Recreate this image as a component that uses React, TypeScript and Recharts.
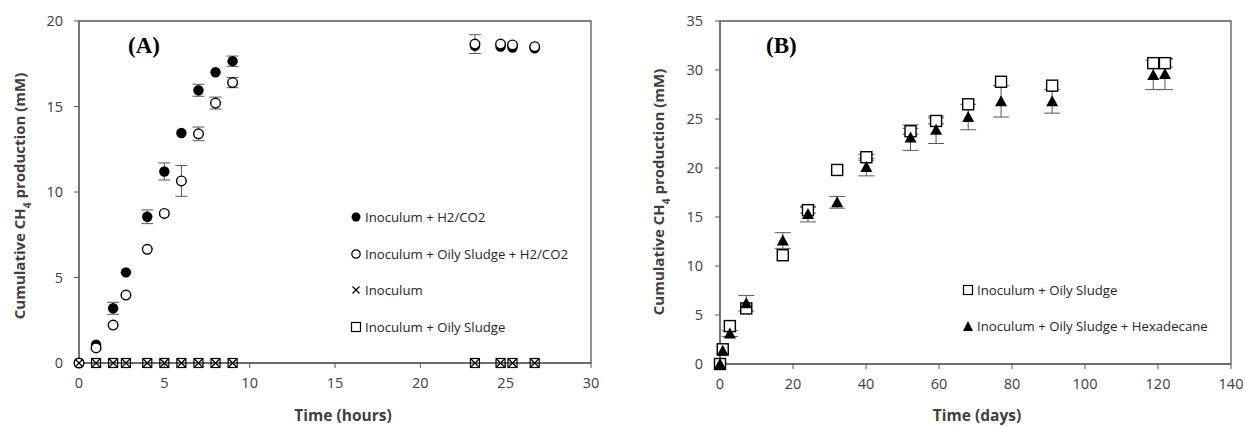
import React from "react";
import { ScatterChart, Scatter, XAxis, YAxis, ErrorBar, ReferenceArea, Label } from "recharts";

// (A) time in hours
const hoursA = [0, 1, 2, 2.75, 4, 5, 6, 7, 8, 9, 23.2, 24.7, 25.4, 26.7];
const h2co2 = [0, 1.07, 3.2, 5.3, 8.55, 11.2, 13.45, 15.95, 17.0, 17.65, 18.55, 18.5, 18.45, 18.4];
const h2co2Err = [0, 0, 0.35, 0, 0.4, 0.5, 0, 0.35, 0, 0.3, 0, 0, 0, 0];
const oilyH2co2 = [0, 0.88, 2.22, 3.97, 6.65, 8.75, 10.65, 13.4, 15.2, 16.4, 18.65, 18.65, 18.6, 18.5];
const oilyH2co2Err = [0, 0, 0, 0, 0, 0, 0.9, 0.4, 0.35, 0.3, 0.55, 0, 0, 0];
const inoculumA = [0, 0, 0, 0, 0, 0, 0, 0, 0, 0, 0, 0, 0, 0];
const hoursSludge = [1, 2, 2.75, 4, 5, 6, 7, 8, 9, 23.2, 24.7, 25.4, 26.7];
const sludgeA = [0, 0, 0, 0, 0, 0, 0, 0, 0, 0, 0, 0, 0];
const xTicksA = [0, 5, 10, 15, 20, 25, 30];
const yTicksA = [0, 5, 10, 15, 20];

// (B) time in days
const daysB = [0, 0.75, 2.7, 7.2, 17.2, 24.1, 32.1, 40.1, 52.2, 59.2, 68, 77, 91, 118.7, 121.9];
const sludgeB = [0, 1.5, 3.87, 5.67, 11.1, 15.7, 19.8, 21.1, 23.75, 24.8, 26.5, 28.8, 28.4, 30.7, 30.7];
const sludgeBErr = [0, 0, 0, 0, 0, 0.3, 0, 0.3, 0.3, 0.3, 0, 0, 0, 0, 0.4];
const hexadecane = [0, 1.36, 3.1, 6.2, 12.6, 15.3, 16.5, 20.1, 23.1, 23.9, 25.2, 26.8, 26.8, 29.5, 29.6];
const hexadecaneErr = [0, 0, 0.3, 0.8, 0.8, 0.8, 0.6, 0.9, 1.3, 1.4, 1.3, 1.6, 1.2, 1.5, 1.6];
const xTicksB = [0, 20, 40, 60, 80, 100, 120, 140];
const yTicksB = [0, 5, 10, 15, 20, 25, 30, 35];

const rows = (xs: number[], ys: number[], errs?: number[]) =>
  xs.map((t, i) => ({ t, v: ys[i], err: errs ? errs[i] : 0 }));

const AXIS = "#595959";
const TXT = "#404040";
const FONT = "'Open Sans', sans-serif";

// markers
const FilledCircle = (p: any) => <circle cx={p.cx} cy={p.cy} r={5.2} fill="#000" />;
const OpenCircle = (p: any) => (
  <circle cx={p.cx} cy={p.cy} r={4.8} fill="#fff" stroke="#000" strokeWidth={1.4} />
);
const Cross = (p: any) => {
  const s = 4;
  return (
    <path
      d={`M${p.cx - s},${p.cy - s}L${p.cx + s},${p.cy + s}M${p.cx - s},${p.cy + s}L${p.cx + s},${p.cy - s}`}
      stroke="#000"
      strokeWidth={1.2}
      fill="none"
    />
  );
};
const SmallSquare = (p: any) => (
  <rect x={p.cx - 4.5} y={p.cy - 4.5} width={9} height={9} fill="none" stroke="#000" strokeWidth={1.2} />
);
const BigSquare = (p: any) => (
  <rect x={p.cx - 5.5} y={p.cy - 5.5} width={11} height={11} fill="#fff" stroke="#000" strokeWidth={1.4} />
);
const Triangle = (p: any) => (
  <path d={`M${p.cx},${p.cy - 6}L${p.cx + 6},${p.cy + 5}L${p.cx - 6},${p.cy + 5}Z`} fill="#000" />
);

const YTitle = ({ px, py }: any) => (
  <text
    x={px}
    y={py}
    transform={`rotate(-90 ${px} ${py})`}
    textAnchor="middle"
    dominantBaseline="middle"
    fontFamily={FONT}
    fontWeight="bold"
    fontSize={15}
    fill={TXT}
  >
    Cumulative CH
    <tspan baselineShift="sub" fontSize={10}>4</tspan>
    <tspan> production (mM)</tspan>
  </text>
);

const XTitle = ({ px, py, caption }: any) => (
  <text x={px} y={py} textAnchor="middle" fontFamily={FONT} fontWeight="bold" fontSize={15.5} fill={TXT}>
    {caption}
  </text>
);

const tickStyle = { fill: TXT, fontSize: 14.5, fontFamily: FONT };

const LegendRow = ({ x, y, marker, text }: any) => (
  <div
    style={{
      position: "absolute",
      left: x - 7,
      top: y - 10,
      height: 20,
      display: "flex",
      alignItems: "center",
      whiteSpace: "nowrap",
      fontFamily: FONT,
      fontSize: 13.2,
      color: "#262626",
    }}
  >
    <svg width={14} height={14} style={{ marginRight: 2 }}>
      {marker}
    </svg>
    {text}
  </div>
);

const PanelTag = ({ x, y, text }: any) => (
  <div
    style={{
      position: "absolute",
      left: x,
      top: y,
      fontFamily: "'Liberation Serif', serif",
      fontWeight: "bold",
      fontSize: 23,
      lineHeight: "23px",
      color: "#000",
    }}
  >
    {text}
  </div>
);

export default function App() {
  return (
    <div style={{ position: "absolute", left: 0, top: 0, width: 1245, height: 427, background: "#fff" }}>
      <div style={{ position: "absolute", left: 0, top: 0 }}>
        <ScatterChart width={600} height={427} margin={{ top: 21, right: 9, bottom: 0, left: 0 }}>
          <XAxis
            type="number"
            dataKey="t"
            domain={[0, 30]}
            ticks={xTicksA}
            height={64}
            tickSize={5}
            tickMargin={10}
            stroke={AXIS}
            tick={tickStyle}
          >
            <Label content={<XTitle px={343} py={421} caption="Time (hours)" />} />
          </XAxis>
          <YAxis
            type="number"
            dataKey="v"
            domain={[0, 20]}
            ticks={yTicksA}
            width={79}
            tickSize={5}
            tickMargin={11}
            stroke={AXIS}
            tick={tickStyle}
          >
            <Label content={<YTitle px={21} py={196} />} />
          </YAxis>
          <ReferenceArea x1={0} x2={30} y1={0} y2={20} fill="none" stroke={AXIS} strokeWidth={1.3} />
          <Scatter data={rows(hoursA, h2co2, h2co2Err)} shape={FilledCircle} isAnimationActive={false}>
            <ErrorBar dataKey="err" direction="y" width={6} stroke={AXIS} strokeWidth={1} />
          </Scatter>
          <Scatter data={rows(hoursA, oilyH2co2, oilyH2co2Err)} shape={OpenCircle} isAnimationActive={false}>
            <ErrorBar dataKey="err" direction="y" width={6} stroke={AXIS} strokeWidth={1} />
          </Scatter>
          <Scatter data={rows(hoursA, inoculumA)} shape={Cross} isAnimationActive={false} />
          <Scatter data={rows(hoursSludge, sludgeA)} shape={SmallSquare} isAnimationActive={false} />
        </ScatterChart>
      </div>

      <div style={{ position: "absolute", left: 620, top: 0 }}>
        <ScatterChart width={625} height={427} margin={{ top: 21, right: 14, bottom: 0, left: 0 }}>
          <XAxis
            type="number"
            dataKey="t"
            domain={[0, 140]}
            ticks={xTicksB}
            height={63}
            tickSize={5}
            tickMargin={10}
            stroke={AXIS}
            tick={tickStyle}
          >
            <Label content={<XTitle px={357} py={421} caption="Time (days)" />} />
          </XAxis>
          <YAxis
            type="number"
            dataKey="v"
            domain={[0, 35]}
            ticks={yTicksB}
            width={100}
            tickSize={5}
            tickMargin={12}
            stroke={AXIS}
            tick={tickStyle}
          >
            <Label content={<YTitle px={40} py={192} />} />
          </YAxis>
          <ReferenceArea x1={0} x2={140} y1={0} y2={35} fill="none" stroke={AXIS} strokeWidth={1.3} />
          <Scatter data={rows(daysB, sludgeB, sludgeBErr)} shape={BigSquare} isAnimationActive={false}>
            <ErrorBar dataKey="err" direction="y" width={8} stroke={AXIS} strokeWidth={1} />
          </Scatter>
          <Scatter data={rows(daysB, hexadecane, hexadecaneErr)} shape={Triangle} isAnimationActive={false}>
            <ErrorBar dataKey="err" direction="y" width={8} stroke={AXIS} strokeWidth={1} />
          </Scatter>
        </ScatterChart>
      </div>

      <PanelTag x={128} y={34} text="(A)" />
      <PanelTag x={766} y={34} text="(B)" />

      <LegendRow x={356} y={217} text="Inoculum + H2/CO2" marker={<circle cx={7} cy={7} r={4.5} fill="#000" />} />
      <LegendRow
        x={356}
        y={254}
        text="Inoculum + Oily Sludge + H2/CO2"
        marker={<circle cx={7} cy={7} r={4.2} fill="#fff" stroke="#000" strokeWidth={1.2} />}
      />
      <LegendRow
        x={356}
        y={290}
        text="Inoculum"
        marker={<path d="M3.5,3.5L10.5,10.5M3.5,10.5L10.5,3.5" stroke="#000" strokeWidth={1.2} />}
      />
      <LegendRow
        x={356}
        y={327}
        text="Inoculum + Oily Sludge"
        marker={<rect x={2.5} y={2.5} width={9} height={9} fill="none" stroke="#000" strokeWidth={1.2} />}
      />
      <LegendRow
        x={968}
        y={290}
        text="Inoculum + Oily Sludge"
        marker={<rect x={2.5} y={2.5} width={9} height={9} fill="none" stroke="#000" strokeWidth={1.2} />}
      />
      <LegendRow
        x={968}
        y={326}
        text="Inoculum + Oily Sludge + Hexadecane"
        marker={<path d="M7,2L12,12L2,12Z" fill="#000" />}
      />
    </div>
  );
}
